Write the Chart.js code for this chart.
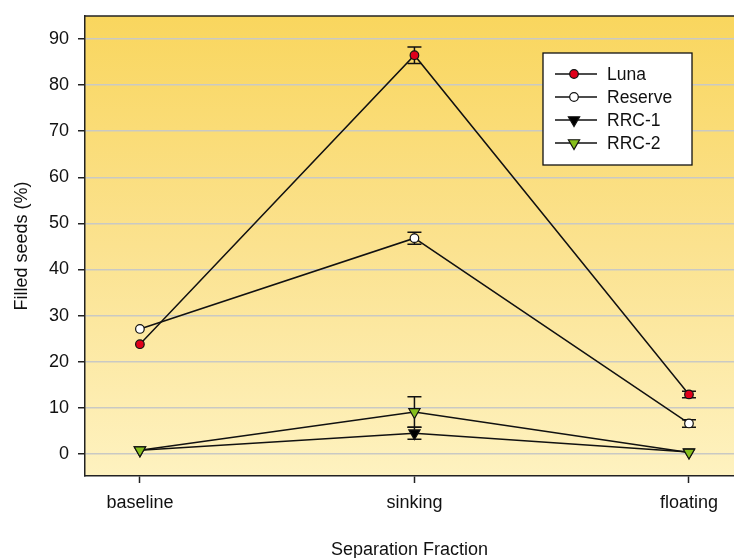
<!DOCTYPE html>
<html>
<head>
<meta charset="utf-8">
<title>Filled seeds by separation fraction</title>
<script src="https://cdn.jsdelivr.net/npm/chart.js@4/dist/chart.umd.min.js"></script>
<style>
  html, body { margin: 0; padding: 0; background: #ffffff; overflow: hidden; }
  canvas { display: block; }
</style>
</head>
<body>
<canvas id="chart" width="734" height="558"></canvas>
<script>
// Separation fractions (x categories) and y-axis tick values
const categories = ['baseline', 'sinking', 'floating'];
const yTicks = [0, 10, 20, 30, 40, 50, 60, 70, 80, 90];

// Filled seeds (%) per cultivar, with standard errors
const luna       = [23.8, 86.5, 12.9];
const lunaErr    = [0, 1.8, 0.7];
const reserve    = [27.1, 46.8, 6.6];
const reserveErr = [0, 1.3, 0.8];
const rrc1       = [0.8, 4.5, 0.4];
const rrc1Err    = [0, 1.3, 0];
const rrc2       = [0.8, 9.1, 0.3];
const rrc2Err    = [0, 3.3, 0];

const toPoints = vals => vals.map((v, i) => ({ x: i, y: v }));

// lower `order` is painted later, i.e. on top
function series(label, vals, errs, style, fill, rotation, order) {
  return {
    label,
    order,
    data: toPoints(vals),
    errors: errs,
    borderColor: '#111111',
    borderWidth: 1.5,
    tension: 0,
    fill: false,
    pointStyle: style,
    pointRotation: rotation,
    pointRadius: style === 'circle' ? 4.3 : 6.5,
    pointBackgroundColor: fill,
    pointBorderColor: '#111111',
    pointBorderWidth: 1.2,
    pointHoverRadius: style === 'circle' ? 4.3 : 6.5
  };
}

const datasets = [
  series('Luna', luna, lunaErr, 'circle', '#e0001b', 0, 0),
  series('Reserve', reserve, reserveErr, 'circle', '#ffffff', 0, 1),
  series('RRC-1', rrc1, rrc1Err, 'triangle', '#000000', 180, 3),
  series('RRC-2', rrc2, rrc2Err, 'triangle', '#86bf1c', 180, 2)
];

// Gradient panel behind the plot plus the top frame line
const panel = {
  id: 'panel',
  beforeDraw(chart) {
    const { ctx, chartArea: a } = chart;
    const g = ctx.createLinearGradient(0, a.top, 0, a.bottom);
    g.addColorStop(0, '#f9d65e');
    g.addColorStop(0.5, '#fbe28f');
    g.addColorStop(1, '#fef2c0');
    ctx.save();
    ctx.fillStyle = g;
    ctx.fillRect(a.left, a.top, a.right - a.left, a.bottom - a.top);
    ctx.restore();
  },
  afterDraw(chart) {
    const { ctx, chartArea: a } = chart;
    ctx.save();
    ctx.strokeStyle = '#222222';
    ctx.lineWidth = 1.5;
    ctx.beginPath();
    ctx.moveTo(a.left, a.top);
    ctx.lineTo(a.right, a.top);
    ctx.stroke();
    ctx.restore();
  }
};

// Vertical error bars with caps, drawn under the markers
const errorBars = {
  id: 'errorBars',
  beforeDatasetsDraw(chart) {
    const { ctx, scales: { x, y } } = chart;
    ctx.save();
    ctx.strokeStyle = '#111111';
    ctx.lineWidth = 1.5;
    chart.data.datasets.forEach(ds => {
      ds.data.forEach((p, i) => {
        const e = ds.errors[i];
        if (!e) return;
        const px = x.getPixelForValue(p.x);
        const yHi = y.getPixelForValue(p.y + e);
        const yLo = y.getPixelForValue(p.y - e);
        ctx.beginPath();
        ctx.moveTo(px, yHi); ctx.lineTo(px, yLo);
        ctx.moveTo(px - 7, yHi); ctx.lineTo(px + 7, yHi);
        ctx.moveTo(px - 7, yLo); ctx.lineTo(px + 7, yLo);
        ctx.stroke();
      });
    });
    ctx.restore();
  }
};

// Boxed legend with line-and-marker samples
const boxLegend = {
  id: 'boxLegend',
  afterDraw(chart) {
    const { ctx } = chart;
    const bx = 543, by = 53, bw = 149, bh = 112;
    ctx.save();
    ctx.fillStyle = '#ffffff';
    ctx.fillRect(bx, by, bw, bh);
    ctx.strokeStyle = '#111111';
    ctx.lineWidth = 1.3;
    ctx.strokeRect(bx, by, bw, bh);
    ctx.font = '17.5px "Liberation Sans", Arial, sans-serif';
    ctx.textBaseline = 'middle';
    ctx.textAlign = 'left';
    chart.data.datasets.forEach((ds, i) => {
      const ry = by + 21 + i * 23;
      ctx.strokeStyle = '#111111';
      ctx.lineWidth = 1.4;
      ctx.beginPath();
      ctx.moveTo(bx + 12, ry); ctx.lineTo(bx + 54, ry);
      ctx.stroke();
      const cx = bx + 31;
      ctx.fillStyle = ds.pointBackgroundColor;
      ctx.lineWidth = 1.2;
      ctx.beginPath();
      if (ds.pointStyle === 'circle') {
        ctx.arc(cx, ry, ds.pointRadius, 0, Math.PI * 2);
      } else {
        const r = ds.pointRadius;
        ctx.moveTo(cx, ry + r);
        ctx.lineTo(cx - r * Math.sqrt(3) / 2, ry - r / 2);
        ctx.lineTo(cx + r * Math.sqrt(3) / 2, ry - r / 2);
        ctx.closePath();
      }
      ctx.fill();
      ctx.stroke();
      ctx.fillStyle = '#111111';
      ctx.fillText(ds.label, bx + 64, ry + 1);
    });
    ctx.restore();
  }
};

Chart.defaults.font.family = '"Liberation Sans", Arial, sans-serif';
Chart.defaults.font.size = 18;
Chart.defaults.color = '#111111';

new Chart(document.getElementById('chart'), {
  type: 'line',
  data: { datasets },
  options: {
    responsive: false,
    animation: false,
    devicePixelRatio: 1,
    layout: { autoPadding: false, padding: { top: 16, left: 0, right: 0, bottom: 0 } },
    plugins: {
      legend: { display: false },
      tooltip: { enabled: false }
    },
    scales: {
      x: {
        type: 'linear',
        // the panel runs off the right edge, so the visible range ends short of 2.2
        min: -0.2,
        max: 2.164,
        afterBuildTicks: s => { s.ticks = categories.map((c, i) => ({ value: i })); },
        afterFit: s => { s.height = 82; s.paddingLeft = 0; s.paddingRight = 0; },
        ticks: {
          autoSkip: false,
          maxRotation: 0,
          padding: 9,
          callback: v => categories[v]
        },
        grid: { drawOnChartArea: false, tickLength: 7, tickColor: '#222222', tickWidth: 1.5 },
        border: { display: true, color: '#222222', width: 1.5 },
        title: { display: true, text: 'Separation Fraction', padding: { top: 0, bottom: -3 } }
      },
      y: {
        type: 'linear',
        min: -4.8,
        max: 95,
        afterBuildTicks: s => { s.ticks = yTicks.map(v => ({ value: v })); },
        afterFit: s => { s.width = 85; s.paddingTop = 0; s.paddingBottom = 0; },
        ticks: { padding: 9, autoSkip: false },
        grid: { color: '#c9c9c4', lineWidth: 1.5, tickLength: 7, tickColor: '#222222', tickWidth: 1.5 },
        border: { display: true, color: '#222222', width: 1.5 },
        title: { display: true, text: 'Filled seeds (%)', padding: { top: 11, bottom: 0 } }
      }
    }
  },
  plugins: [panel, errorBars, boxLegend]
});
</script>
</body>
</html>
